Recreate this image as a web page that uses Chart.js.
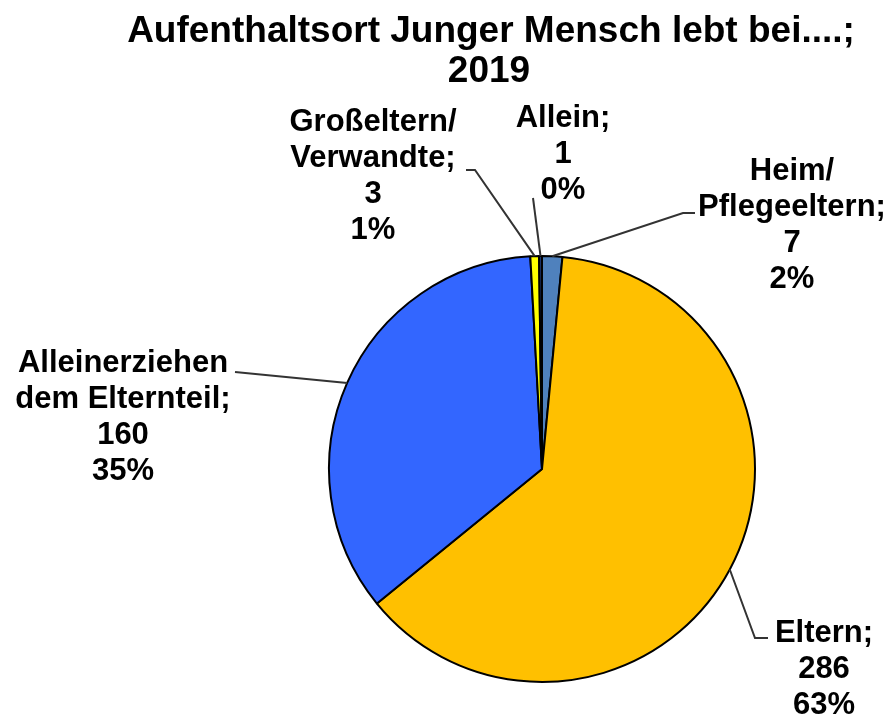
<!DOCTYPE html>
<html>
<head>
<meta charset="utf-8">
<style>
  html, body { margin: 0; padding: 0; background: #fff; }
  canvas { display: block; }
</style>
<script src="https://cdn.jsdelivr.net/npm/chart.js@4"></script>
</head>
<body>
<canvas id="chart" width="894" height="720"></canvas>
<script>
// data
const titleLines = ["Aufenthaltsort Junger Mensch lebt bei....;", "2019"];
const categories = ["Heim/\nPflegeeltern", "Eltern", "Alleinerziehen\ndem Elternteil", "Großeltern/\nVerwandte", "Allein"];
const values = [7, 286, 160, 3, 1];
const colors = ["#4F81BD", "#FFC000", "#3366FF", "#FFFF00", "#1F3A7A"];

// where each data label sits (centre x, first baseline) and its leader line bends
const labelLayout = [
  { x: 792, y: 180, line: [[683, 213], [695, 213]] },
  { x: 824, y: 642, line: [[755, 638], [768, 638]] },
  { x: 123, y: 372, line: [[235, 372]] },
  { x: 373, y: 131, line: [[475, 170], [466, 170]] },
  { x: 563, y: 127, line: [[533, 198]] },
];

const font = '"Liberation Sans", Arial, sans-serif';

const pieLabels = {
  id: "pieLabels",
  afterDraw(chart) {
    const ctx = chart.ctx;
    const meta = chart.getDatasetMeta(0);
    const total = values.reduce((a, b) => a + b, 0);

    ctx.save();
    // title
    ctx.fillStyle = "#000";
    ctx.textAlign = "center";
    ctx.textBaseline = "alphabetic";
    ctx.font = "bold 37px " + font;
    ctx.fillText(titleLines[0], 491, 42);
    ctx.fillText(titleLines[1], 489, 82);

    // leader lines
    ctx.strokeStyle = "#333333";
    ctx.lineWidth = 2;
    meta.data.forEach((arc, i) => {
      const mid = (arc.startAngle + arc.endAngle) / 2;
      const sx = arc.x + Math.cos(mid) * arc.outerRadius;
      const sy = arc.y + Math.sin(mid) * arc.outerRadius;
      ctx.beginPath();
      ctx.moveTo(sx, sy);
      labelLayout[i].line.forEach(p => ctx.lineTo(p[0], p[1]));
      ctx.stroke();
    });

    // data labels
    ctx.font = "bold 31px " + font;
    categories.forEach((cat, i) => {
      const lines = cat.split("\n");
      lines[lines.length - 1] += ";";
      lines.push(String(values[i]));
      lines.push(Math.round(values[i] / total * 100) + "%");
      const pos = labelLayout[i];
      lines.forEach((t, k) => ctx.fillText(t, pos.x, pos.y + k * 36));
    });
    ctx.restore();
  }
};

const ctx = document.getElementById("chart").getContext("2d");
const chart = new Chart(ctx, {
  type: "pie",
  data: {
    labels: categories,
    datasets: [
      {
        data: values,
        backgroundColor: colors,
        borderColor: "#000000",
        borderWidth: 2,
      },
    ],
  },
  options: {
    responsive: false,
    animation: false,
    layout: {
      padding: { left: 328, right: 138, top: 255, bottom: 37 },
    },
    plugins: {
      legend: { display: false },
      tooltip: { enabled: false },
      title: { display: false },
    },
  },
  plugins: [pieLabels],
});
</script>
</body>
</html>
